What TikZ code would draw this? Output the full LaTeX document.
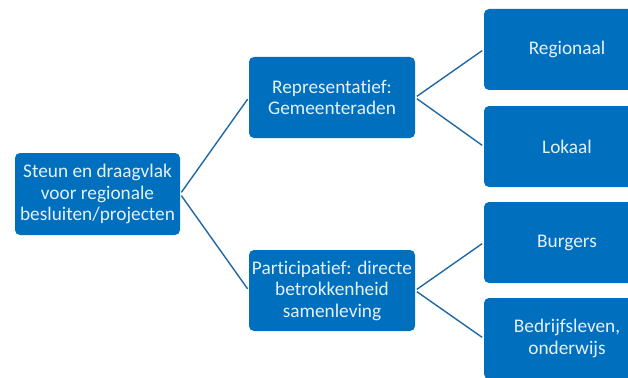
\documentclass[tikz,border=0pt]{standalone}
\usepackage{fontspec}
\setmainfont[Ligatures=NoCommon]{Carlito}
\definecolor{boxblue}{RGB}{0,112,190}
\definecolor{lineblue}{RGB}{30,105,165}
\definecolor{txt}{RGB}{228,240,250}
\begin{document}
\begin{tikzpicture}[x=1pt,y=-1pt,
  box/.style={draw=none,fill=boxblue,rounded corners=5pt,minimum width=166pt,minimum height=81pt,
    text=txt,align=center,font=\fontsize{19.3}{21.5}\selectfont,inner sep=2pt},
  conn/.style={draw=lineblue,line width=1.4pt,shorten <=2pt,shorten >=2pt}]
\useasboundingbox (0,0) rectangle (628,377);
\node[box,minimum width=165pt,minimum height=82pt] (root) at (97.5,194) {Steun en draagvlak\\voor regionale\\besluiten/projecten};
\node[box] (rep) at (332,97.5) {Representatief:\\Gemeenteraden};
\node[box] (par) at (332,290.5) {Participatief: directe\\betrokkenheid\\samenleving};
\node[box] (reg) at (567,49.5) {Regionaal};
\node[box] (lok) at (567,146.5) {Lokaal};
\node[box] (bur) at (567,242.5) {Burgers};
\node[box] (bed) at (567,338.5) {Bedrijfsleven,\\onderwijs};
\draw[conn] (root.east) -- (rep.west);
\draw[conn] (root.east) -- (par.west);
\draw[conn] (rep.east) -- (reg.west);
\draw[conn] (rep.east) -- (lok.west);
\draw[conn] (par.east) -- (bur.west);
\draw[conn] (par.east) -- (bed.west);
\end{tikzpicture}
\end{document}
